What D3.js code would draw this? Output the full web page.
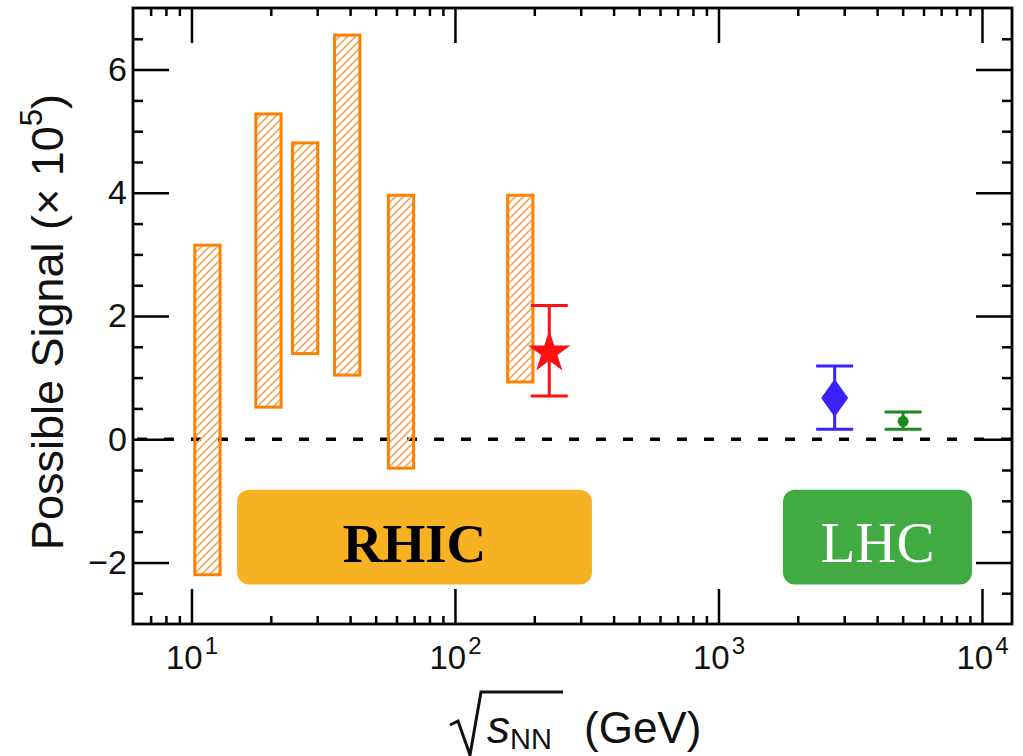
<!DOCTYPE html>
<html>
<head>
<meta charset="utf-8">
<script src="https://cdn.jsdelivr.net/npm/d3@7"></script>
<style>
  body { margin: 0; background: #fff; }
  svg { display: block; }
</style>
</head>
<body>
<svg id="chart" width="1023" height="756"></svg>
<script>
// hatched bands (RHIC energies)
const barEnergy = [11.5, 19.6, 27, 39, 62.4, 177];
const barLow = [-2.2, 0.52, 1.39, 1.04, -0.47, 0.93];
const barHigh = [3.15, 5.28, 4.81, 6.56, 3.96, 3.96];

// points with error bars
const pointShape = ["star", "diamond", "circle"];
const pointColor = ["#ff1010", "#3a22ff", "#1c8a1c"];
const pointEnergy = [228, 2760, 5020];
const pointValue = [1.41, 0.67, 0.29];
const pointErrLow = [0.70, 0.16, 0.16];
const pointErrHigh = [2.17, 1.19, 0.44];

// facility labels
const boxLabel = ["RHIC", "LHC"];
const boxFrom = [14.9, 1757];
const boxTo = [331, 9160];
const boxColor = ["#f6b222", "#42aa42"];

const xMajor = [10, 100, 1000, 10000];
const xExp = ["1", "2", "3", "4"];
const yMajor = [-2, 0, 2, 4, 6];

const pLeft = 133, pRight = 1012, pTop = 8, pBottom = 624;

const svg = d3.select("#chart");
const x = d3.scaleLog().domain([6, 13000]).range([pLeft, pRight]);
const y = d3.scaleLinear().domain([-3, 7]).range([pBottom, pTop]);

// minor ticks
const xMinor = [];
for (let p = 0; p <= 4; p++) {
  for (let m = 2; m <= 9; m++) {
    const v = m * Math.pow(10, p);
    if (v > 6 && v < 13000) xMinor.push(v);
  }
}
const yMinor = d3.range(-2.5, 7, 0.5).filter(v => !yMajor.includes(v));

// hatch pattern
const defs = svg.append("defs");
defs.append("pattern")
  .attr("id", "hatch")
  .attr("patternUnits", "userSpaceOnUse")
  .attr("width", 8).attr("height", 8)
  .append("path")
  .attr("d", "M-2,2 l4,-4 M0,8 l8,-8 M6,10 l4,-4")
  .attr("stroke", "#f2aa66")
  .attr("stroke-width", 1.8);

// axes (ticks pointing inward on all four sides)
function styleAxis(g) {
  g.select(".domain").remove();
  g.selectAll(".tick line").attr("stroke", "#000").attr("stroke-width", 2.5);
}
svg.append("g").attr("transform", `translate(0,${pBottom})`)
  .call(d3.axisBottom(x).tickValues(xMinor).tickSize(-8).tickFormat(""))
  .call(styleAxis);
svg.append("g").attr("transform", `translate(0,${pTop})`)
  .call(d3.axisTop(x).tickValues(xMinor).tickSize(-8).tickFormat(""))
  .call(styleAxis);
svg.append("g").attr("transform", `translate(0,${pTop})`)
  .call(d3.axisTop(x).tickValues(xMajor).tickSize(-35).tickFormat(""))
  .call(styleAxis);
const xAxis = svg.append("g").attr("transform", `translate(0,${pBottom})`)
  .call(d3.axisBottom(x).tickValues(xMajor).tickSize(-35).tickFormat(""))
  .call(styleAxis);
xAxis.selectAll(".tick text").remove();
xAxis.selectAll(".tick").append("text")
  .attr("y", 45)
  .attr("text-anchor", "middle")
  .attr("fill", "#111")
  .style("font-family", "'Liberation Sans', Arial, sans-serif")
  .style("font-size", "33px")
  .each(function (d, i) {
    const t = d3.select(this);
    t.append("tspan").text("10");
    t.append("tspan").attr("dy", -15).attr("dx", 2).style("font-size", "24px").text(xExp[i]);
  });

svg.append("g").attr("transform", `translate(${pLeft},0)`)
  .call(d3.axisLeft(y).tickValues(yMinor).tickSize(-10).tickFormat(""))
  .call(styleAxis);
svg.append("g").attr("transform", `translate(${pRight},0)`)
  .call(d3.axisRight(y).tickValues(yMinor).tickSize(-10).tickFormat(""))
  .call(styleAxis);
svg.append("g").attr("transform", `translate(${pRight},0)`)
  .call(d3.axisRight(y).tickValues(yMajor).tickSize(-36).tickFormat(""))
  .call(styleAxis);
svg.append("g").attr("transform", `translate(${pLeft},0)`)
  .call(d3.axisLeft(y).tickValues(yMajor).tickSize(-36)
    .tickFormat(d => d < 0 ? "\u2212" + Math.abs(d) : d))
  .call(styleAxis)
  .call(g => g.selectAll(".tick text")
    .attr("x", -6)
    .attr("fill", "#111")
    .style("font-family", "'Liberation Sans', Arial, sans-serif")
    .style("font-size", "34px"));

// zero line
svg.append("line")
  .attr("x1", pLeft).attr("x2", pRight)
  .attr("y1", y(0)).attr("y2", y(0))
  .attr("stroke", "#000")
  .attr("stroke-width", 3.5)
  .attr("stroke-dasharray", "10,17")
  .attr("stroke-dashoffset", -4);

// facility boxes
const boxes = svg.append("g").selectAll("g")
  .data(boxLabel)
  .join("g");
boxes.append("rect")
  .attr("x", (d, i) => x(boxFrom[i]))
  .attr("width", (d, i) => x(boxTo[i]) - x(boxFrom[i]))
  .attr("y", y(-0.82))
  .attr("height", y(-2.36) - y(-0.82))
  .attr("rx", 12)
  .attr("fill", (d, i) => boxColor[i]);
boxes.append("text")
  .attr("x", (d, i) => (x(boxFrom[i]) + x(boxTo[i])) / 2)
  .attr("y", y(-2.0))
  .attr("text-anchor", "middle")
  .attr("fill", (d, i) => i === 0 ? "#000" : "#fff")
  .style("font-family", "'Liberation Serif', 'Times New Roman', serif")
  .style("font-weight", (d, i) => i === 0 ? "bold" : "normal")
  .style("font-size", (d, i) => i === 0 ? "55px" : "57px")
  .text(d => d);

// hatched bars
const hw = 0.048;
svg.append("g").selectAll("rect")
  .data(barEnergy)
  .join("rect")
  .attr("x", d => x(d / Math.pow(10, hw)))
  .attr("width", d => x(d * Math.pow(10, hw)) - x(d / Math.pow(10, hw)))
  .attr("y", (d, i) => y(barHigh[i]))
  .attr("height", (d, i) => y(barLow[i]) - y(barHigh[i]))
  .attr("fill", "url(#hatch)")
  .attr("stroke", "#ff8000")
  .attr("stroke-width", 3);

// error bars and markers
const pts = svg.append("g").selectAll("g")
  .data(pointEnergy)
  .join("g")
  .attr("stroke", (d, i) => pointColor[i])
  .attr("fill", (d, i) => pointColor[i]);
pts.append("line")
  .attr("x1", d => x(d)).attr("x2", d => x(d))
  .attr("y1", (d, i) => y(pointErrLow[i]))
  .attr("y2", (d, i) => y(pointErrHigh[i]))
  .attr("stroke-width", 3);
[pointErrLow, pointErrHigh].forEach(arr => {
  pts.append("line")
    .attr("x1", d => x(d) - 18.5).attr("x2", d => x(d) + 18.5)
    .attr("y1", (d, i) => y(arr[i])).attr("y2", (d, i) => y(arr[i]))
    .attr("stroke-width", 3);
});
pts.each(function (d, i) {
  const g = d3.select(this);
  const cx = x(d), cy = y(pointValue[i]);
  if (pointShape[i] === "star") {
    g.append("path")
      .attr("transform", `translate(${cx},${cy})`)
      .attr("d", d3.symbol(d3.symbolStar).size(560)())
      .attr("stroke", "none");
  } else if (pointShape[i] === "diamond") {
    g.append("path")
      .attr("d", `M${cx},${cy - 19}L${cx + 13.5},${cy}L${cx},${cy + 19}L${cx - 13.5},${cy}Z`)
      .attr("stroke", "none");
  } else {
    g.append("circle").attr("cx", cx).attr("cy", cy).attr("r", 5.5).attr("stroke", "none");
  }
});

// frame
svg.append("rect")
  .attr("x", pLeft).attr("y", pTop)
  .attr("width", pRight - pLeft).attr("height", pBottom - pTop)
  .attr("fill", "none")
  .attr("stroke", "#000")
  .attr("stroke-width", 2.8);

// y label
const yl = svg.append("text")
  .attr("transform", `translate(63,${(pTop + pBottom) / 2 + 6}) rotate(-90)`)
  .attr("text-anchor", "middle")
  .attr("fill", "#111")
  .style("font-family", "'Liberation Sans', Arial, sans-serif")
  .style("font-size", "45px");
yl.append("tspan").text("Possible Signal (\u00d7 10");
yl.append("tspan").attr("dy", -21).style("font-size", "31px").text("5");
yl.append("tspan").attr("dy", 21).text(")");

// x label with radical
svg.append("path")
  .attr("d", "M450,725 L458,721 L470,755 L481,692 L563,692")
  .attr("fill", "none")
  .attr("stroke", "#111")
  .attr("stroke-width", 3);
const xl = svg.append("text")
  .attr("x", 487).attr("y", 743)
  .attr("fill", "#111")
  .style("font-family", "'Liberation Sans', Arial, sans-serif")
  .style("font-size", "44px");
xl.append("tspan").style("font-style", "italic").style("font-size", "46px").text("s");
xl.append("tspan").attr("dy", 6).style("font-size", "29px").text("NN");
xl.append("tspan").attr("dy", -6).attr("x", 584).text("(GeV)");
</script>
</body>
</html>
